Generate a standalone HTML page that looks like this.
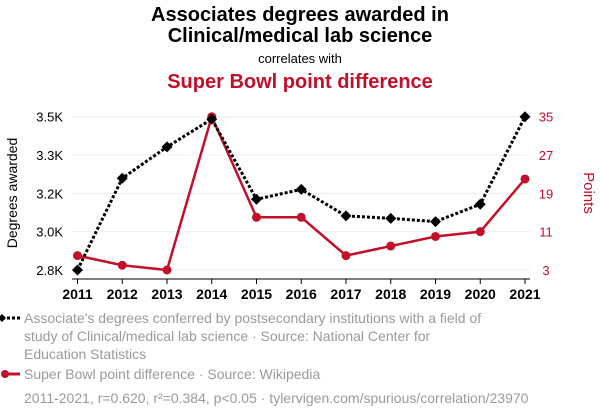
<!DOCTYPE html>
<html><head><meta charset="utf-8"><style>
body{margin:0;background:#fff;width:600px;height:414px;overflow:hidden;font-family:"Liberation Sans",sans-serif}
svg{display:block}
</style></head><body>
<svg width="600" height="414" xmlns="http://www.w3.org/2000/svg" font-family="Liberation Sans, sans-serif">
<text x="300" y="21" text-anchor="middle" font-size="20" font-weight="bold" fill="#000">Associates degrees awarded in</text>
<text x="300" y="42" text-anchor="middle" font-size="20" font-weight="bold" fill="#000">Clinical/medical lab science</text>
<text x="300" y="63" text-anchor="middle" font-size="13" fill="#000">correlates with</text>
<text x="300" y="88" text-anchor="middle" font-size="20" font-weight="bold" fill="#c0102a">Super Bowl point difference</text>
<g id="grid"></g><g id="axes"></g><g id="marks"></g>
<text transform="translate(17,193) rotate(-90)" text-anchor="middle" font-size="14" fill="#000">Degrees awarded</text>
<text transform="translate(584,193) rotate(90)" text-anchor="middle" font-size="15" fill="#c0102a">Points</text>
<g>
<line x1="2" y1="318" x2="22" y2="318" stroke="#000" stroke-width="3" stroke-dasharray="3,2"/>
<path d="M2,314 L6,318 L2,322 L-2,318Z" fill="#000"/>
<text font-size="14" fill="#9a9a9a"><tspan x="24" y="323">Associate's degrees conferred by postsecondary institutions with a field of</tspan><tspan x="24" y="341">study of Clinical/medical lab science · Source: National Center for</tspan><tspan x="24" y="359">Education Statistics</tspan></text>
</g>
<g>
<line x1="4" y1="374" x2="20" y2="374" stroke="#c0102a" stroke-width="3"/>
<circle cx="5" cy="374" r="4" fill="#c0102a"/>
<text x="24" y="379" font-size="14" fill="#9a9a9a">Super Bowl point difference · Source: Wikipedia</text>
</g>
<text x="24" y="403" font-size="14" fill="#9a9a9a">2011-2021, r=0.620, r²=0.384, p&lt;0.05 · tylervigen.com/spurious/correlation/23970</text>
</svg>
<script>
const years=[2011,2012,2013,2014,2015,2016,2017,2018,2019,2020,2021];
const degrees=[2800,3219,3362,3489,3123,3168,3047,3036,3021,3100,3500];
const points=[6,4,3,35,14,14,6,8,10,11,22];
const leftTicks=[2800,2975,3150,3325,3500];
const leftTickLabels=["2.8K","3.0K","3.2K","3.3K","3.5K"];
const rightTicks=[3,11,19,27,35];
const NS="http://www.w3.org/2000/svg";
const x=y=>77.5+(y-2011)*(525-77.5)/10;
const yl=v=>270-(v-2800)/700*153.3;
const yr=v=>270-(v-3)/32*153.3;
function mk(t,a,p){const e=document.createElementNS(NS,t);for(const k in a)e.setAttribute(k,a[k]);p.appendChild(e);return e;}
const grid=document.getElementById('grid'),axes=document.getElementById('axes'),marks=document.getElementById('marks');
leftTicks.forEach((t,i)=>{
 const g=mk('line',{x1:72,x2:530,y1:yl(t),y2:yl(t),stroke:'#eee','stroke-width':1},grid);
 
 
 const tx=mk('text',{x:63,y:yl(t)+5,'text-anchor':'end','font-size':13,fill:'#000'},axes);
 tx.textContent=leftTickLabels[i];
 
 
});
rightTicks.forEach(t=>{
 const tx=mk('text',{x:546,y:yr(t)+5,'text-anchor':'middle','font-size':13,fill:'#c0102a'},axes);
 tx.textContent=t;
 
 
});
const ax=mk('line',{x1:72,x2:530,y1:279,y2:279,stroke:'#000','stroke-width':1},axes);


years.forEach(yv=>{
 mk('line',{x1:x(yv),x2:x(yv),y1:279,y2:284,stroke:'#000'},axes);
 const tx=mk('text',{x:x(yv),y:299,'text-anchor':'middle','font-size':14,'font-weight':'bold',fill:'#000'},axes);
 tx.textContent=yv;
 
 
});
const rp=mk('polyline',{points:years.map((yv,i)=>x(yv)+','+yr(points[i])).join(' '),fill:'none',stroke:'#c0102a','stroke-width':2.5},marks);


years.forEach((yv,i)=>{
 const c=mk('circle',{cx:x(yv),cy:yr(points[i]),r:4.5,fill:'#c0102a'},marks);
 
 
});
const bp=mk('polyline',{points:years.map((yv,i)=>x(yv)+','+yl(degrees[i])).join(' '),fill:'none',stroke:'#000','stroke-width':3,'stroke-dasharray':'3,2'},marks);


years.forEach((yv,i)=>{
 const cx=x(yv),cy=yl(degrees[i]);
 const d=mk('path',{d:`M${cx},${cy-5.5}L${cx+5.5},${cy}L${cx},${cy+5.5}L${cx-5.5},${cy}Z`,fill:'#000'},marks);
 
 
});
</script>
</body></html>
